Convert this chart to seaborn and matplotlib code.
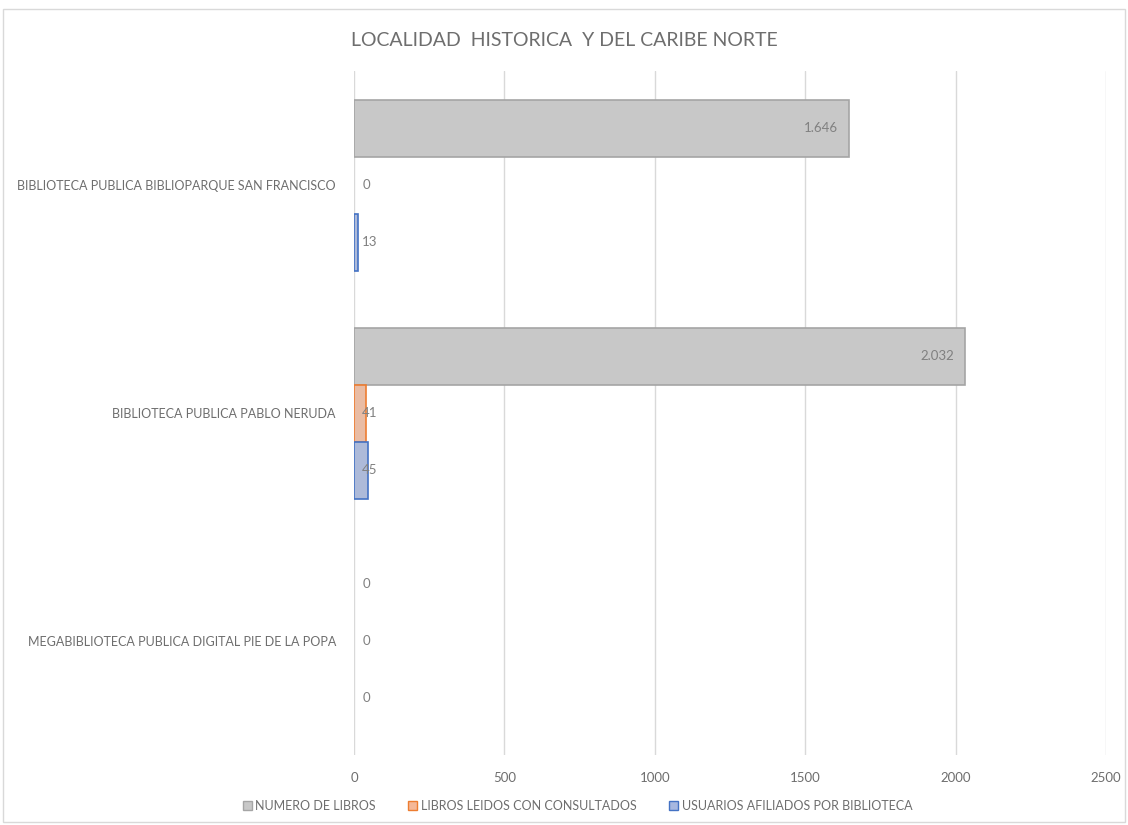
import matplotlib.pyplot as plt
import pandas as pd
import seaborn as sns
from matplotlib.patches import Patch, Rectangle

# Data
libraries = [
    "BIBLIOTECA PUBLICA BIBLIOPARQUE SAN FRANCISCO",
    "BIBLIOTECA PUBLICA PABLO NERUDA",
    "MEGABIBLIOTECA PUBLICA DIGITAL PIE DE LA POPA",
]
series = [
    "NUMERO DE LIBROS",
    "LIBROS LEIDOS CON CONSULTADOS",
    "USUARIOS AFILIADOS POR BIBLIOTECA",
]
numero_libros = [1646, 2032, 0]
libros_leidos = [0, 41, 0]
usuarios_afiliados = [13, 45, 0]
x_ticks = [0, 500, 1000, 1500, 2000, 2500]

fills = ["#c8c8c8", "#f5b898", "#a6b7e0"]
edges = ["#a5a5a5", "#ed7d31", "#4472c4"]
text_color = "#6e6e6e"
font = ["Lato", "DejaVu Sans"]

df = pd.DataFrame({
    "biblioteca": libraries * 3,
    "serie": [s for s in series for _ in libraries],
    "valor": numero_libros + libros_leidos + usuarios_afiliados,
})

sns.set_theme(style="white")
plt.rcParams["font.family"] = font

fig = plt.figure(figsize=(11.28, 8.25), dpi=100)
ax = fig.add_axes([0.3138, 0.0848, 0.6667, 0.8291])

sns.barplot(
    data=df, y="biblioteca", x="valor", hue="serie",
    order=libraries, hue_order=series, palette=fills,
    orient="h", width=0.75, ax=ax, legend=False,
)

for container, edge in zip(ax.containers, edges):
    for bar in container:
        v = bar.get_width()
        if v > 0:
            bar.set_edgecolor(edge)
            bar.set_linewidth(1.2)
        else:
            bar.set_visible(False)
        y = bar.get_y() + bar.get_height() / 2
        label = f"{int(v):,}".replace(",", ".")
        if v > 500:
            ax.annotate(label, (v, y), xytext=(-8, 0), textcoords="offset points",
                        ha="right", va="center", fontsize=9.5, color="#808080")
        else:
            ax.annotate(label, (0, y), xytext=(6, 0), textcoords="offset points",
                        ha="left", va="center", fontsize=9.5, color="#808080")

ax.set_xlim(0, 2500)
ax.set_xticks(x_ticks)
ax.xaxis.grid(True, color="#d9d9d9", linewidth=1)
ax.set_axisbelow(True)
for spine in ax.spines.values():
    spine.set_visible(False)
ax.tick_params(axis="x", colors=text_color, labelsize=9.5, length=0, pad=12)
ax.tick_params(axis="y", colors=text_color, labelsize=9, length=0, pad=13)
ax.set_xlabel("")
ax.set_ylabel("")

fig.text(0.5, 0.951, "LOCALIDAD  HISTORICA  Y DEL CARIBE NORTE",
         ha="center", va="center", fontsize=14, color=text_color)

handles = [Patch(facecolor=f, edgecolor=e, linewidth=1) for f, e in zip(fills, edges)]
fig.legend(handles, series, loc="center", bbox_to_anchor=(0.512, 0.023), ncol=3,
           frameon=False, fontsize=9, labelcolor=text_color, handlelength=0.7,
           handleheight=0.7, handletextpad=0.3, columnspacing=2.6)

fig.patches.append(Rectangle((0.003, 0.004), 0.994, 0.985, transform=fig.transFigure,
                             fill=False, edgecolor="#d9d9d9", linewidth=1))

fig.savefig("out.png", dpi=100)
